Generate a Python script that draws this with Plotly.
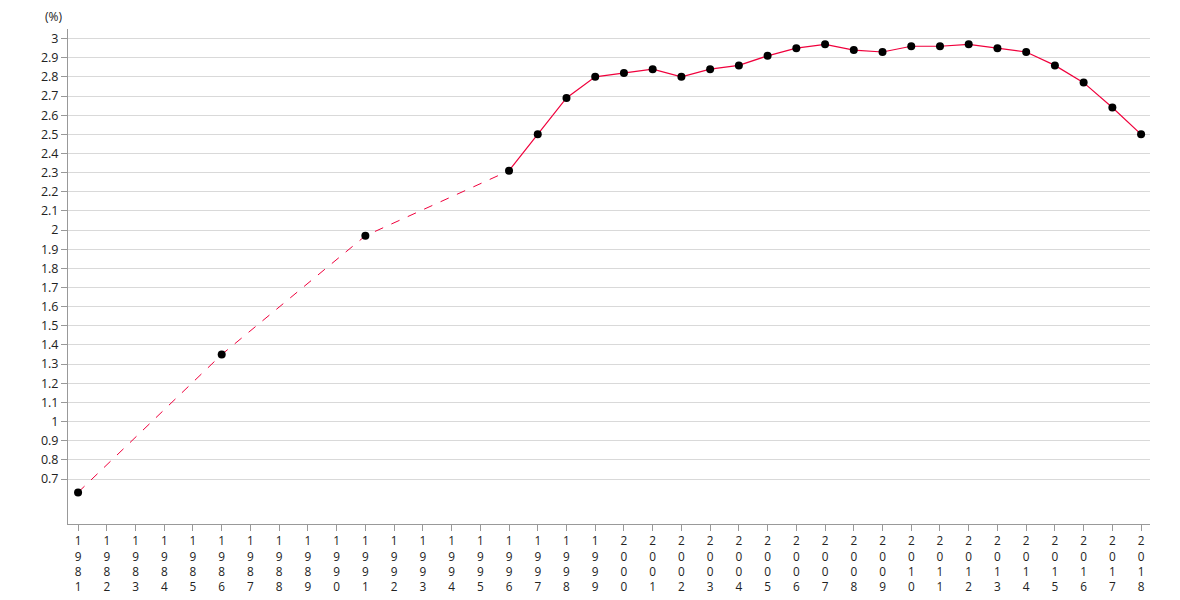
import plotly.graph_objects as go

years = list(range(1981, 2019))
sparse_years = [1981, 1986, 1991, 1996]
sparse_values = [0.63, 1.35, 1.97, 2.31]
annual_years = list(range(1996, 2019))
annual_values = [2.31, 2.50, 2.69, 2.80, 2.82, 2.84, 2.80, 2.84, 2.86, 2.91,
                 2.95, 2.97, 2.94, 2.93, 2.96, 2.96, 2.97, 2.95, 2.93, 2.86,
                 2.77, 2.64, 2.50]
y_ticks = [round(0.7 + 0.1 * i, 1) for i in range(24)]
x_tick_text = ["<br>".join(str(y)) for y in years]

line_color = "#f0003c"

fig = go.Figure()
fig.add_trace(go.Scatter(x=sparse_years, y=sparse_values, mode="lines",
                         line=dict(color=line_color, width=1, dash="dash"),
                         hoverinfo="skip", showlegend=False))
fig.add_trace(go.Scatter(x=annual_years, y=annual_values, mode="lines",
                         line=dict(color=line_color, width=1.2),
                         hoverinfo="skip", showlegend=False))
fig.add_trace(go.Scatter(x=sparse_years[:-1] + annual_years,
                         y=sparse_values[:-1] + annual_values, mode="markers",
                         marker=dict(color="black", size=8),
                         showlegend=False))

fig.update_layout(
    width=1172, height=592,
    margin=dict(l=60, r=30, t=21, b=76, autoexpand=False),
    plot_bgcolor="white", paper_bgcolor="white",
    font=dict(family="Open Sans, Noto Sans, sans-serif", size=12.5, color="#222"),
    xaxis=dict(range=[1980.65, 2018.31], tickmode="array", tickvals=years,
               ticktext=x_tick_text, showgrid=False, showline=True,
               linecolor="#999", linewidth=1, ticks="outside", ticklen=6,
               tickcolor="#999", zeroline=False, tickangle=0, automargin=False,
               tickfont=dict(size=11.8)),
    yaxis=dict(range=[0.465, 3.05], tickmode="array", tickvals=y_ticks,
               ticktext=[f"{v:g}" for v in y_ticks], showgrid=True,
               gridcolor="#d9d9d9", gridwidth=1, showline=True,
               linecolor="#999", linewidth=1, ticks="outside", ticklen=6,
               tickcolor="#999", zeroline=False, automargin=False),
    annotations=[dict(text="(%)", xref="paper", yref="paper", x=0, y=1.0,
                      xshift=-4, yshift=2, xanchor="right", yanchor="bottom",
                      showarrow=False, font=dict(size=12, color="#222"))],
)

fig.write_html("out.html")
